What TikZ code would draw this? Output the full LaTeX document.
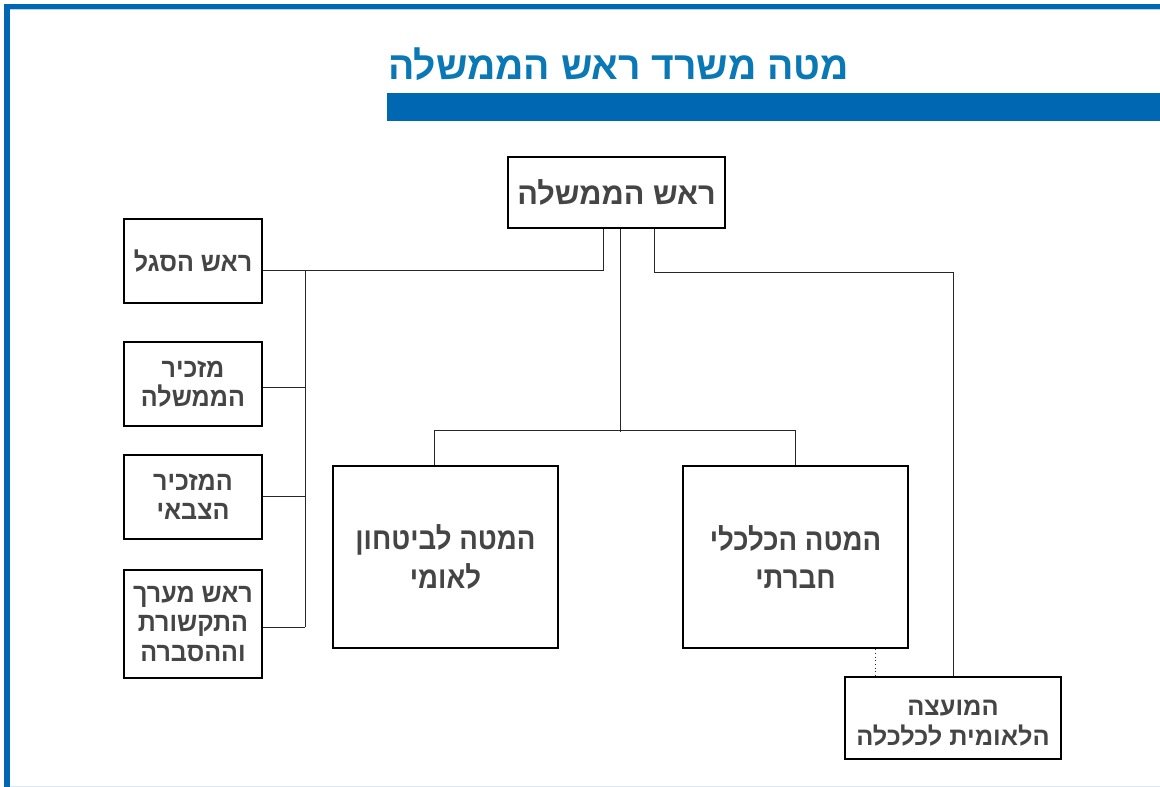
\documentclass[tikz,border=0pt]{standalone}
\usepackage{fontspec}
\newfontfamily\hebfont[Script=Hebrew]{Liberation Sans}
\newfontfamily\hebnarrow[Script=Hebrew,FakeStretch=0.9]{Liberation Sans}
\newfontfamily\hebside[Script=Hebrew,FakeStretch=0.94]{Liberation Sans}
\TeXXeTstate=1
\usetikzlibrary{positioning,calc}
\definecolor{pmoblue}{HTML}{0068B3}
\definecolor{titleblue}{HTML}{0B78B6}
\definecolor{textgray}{HTML}{454545}
\newcommand{\heb}[1]{\beginR #1\endR}

\begin{document}
\begin{tikzpicture}[x=0.75pt,y=0.75pt,yscale=-1,xscale=1,
  unit/.style={draw=black, line width=2pt, fill=white, text=textgray, align=center, inner sep=0pt},
  sidebox/.style={unit, minimum width=103.5pt, font=\hebside\bfseries\fontsize{20}{22}\selectfont},
  deskbox/.style={unit, minimum width=168.75pt, minimum height=136.5pt, font=\hebnarrow\bfseries\fontsize{23}{29}\selectfont},
  link/.style={draw=black!85, line width=0.75pt}]
\useasboundingbox (0,0) rectangle (1160,787);

%frame
\fill[pmoblue] (4,4) rectangle (1160,9);
\fill[pmoblue] (4,4) rectangle (10,787);
\draw[pmoblue!30, line width=0.75pt] (10,10) -- (1160,10);
\draw[pmoblue!15, line width=0.75pt] (10,786) -- (1160,786);

%title and bar
\node[text=titleblue, font=\hebfont\bfseries\fontsize{29.3}{32}\selectfont] (title) at (618.5,64) {\heb{מטה משרד ראש הממשלה}};
\fill[pmoblue] (387,93) rectangle (1160,121);

%head
\node[unit, minimum width=162.75pt, minimum height=53.25pt, font=\hebfont\bfseries\fontsize{23}{26}\selectfont] (pm) at (616.5,192.5) {\heb{ראש הממשלה}};

%left column
\node[sidebox, minimum height=63pt] (sagal) at (193,261) {\heb{ראש הסגל}};
\node[sidebox, minimum height=63pt] (mazkir) at (193,384) {\heb{מזכיר}\\\heb{הממשלה}};
\node[sidebox, minimum height=63pt] (tzvai) at (193,497) {\heb{המזכיר}\\\heb{הצבאי}};
\node[sidebox, minimum height=81pt] (hasbara) at (193,624) {\heb{ראש מערך}\\\heb{התקשורת}\\\heb{וההסברה}};

%staffs
\node[deskbox] (nsc) at (445.5,557) {\heb{המטה לביטחון}\\\heb{לאומי}};
\node[deskbox] (econ) at (795.5,557) {\heb{המטה הכלכלי}\\\heb{חברתי}};
\node[unit, minimum width=162pt, minimum height=61.5pt, font=\hebfont\bfseries\fontsize{19}{22.5}\selectfont] (council) at (953,718) {\rule{0pt}{19pt}\heb{המועצה}\\\heb{הלאומית לכלכלה}};

%connections
\coordinate (bus) at ($(sagal.east)+(42,10)$);
\draw[link] ($(pm.south)+(-13.5,0)$) |- ($(sagal.east)+(0,10)$);
\draw[link] (bus) -- ($(hasbara.east)+(42,3)$);
\draw[link] ($(mazkir.east)+(0,4)$) -- ($(mazkir.east)+(42,4)$);
\draw[link] (tzvai.east) -- ($(tzvai.east)+(42,0)$);
\draw[link] ($(hasbara.east)+(0,3)$) -- ($(hasbara.east)+(42,3)$);
\draw[link] ($(pm.south)+(3.5,0)$) -- ($(pm.south)+(3.5,203)$);
\draw[link] ($(nsc.north)+(-11,0)$) -- ($(nsc.north)+(-11,-34)$) -| (econ.north);
\draw[link] ($(pm.south)+(37.5,0)$) -- ($(pm.south)+(37.5,43)$) -| (council.north);
\draw[link, dotted] ($(econ.south)+(79.5,0)$) -- ($(council.north)+(-78,0)$);

\end{tikzpicture}
\end{document}
